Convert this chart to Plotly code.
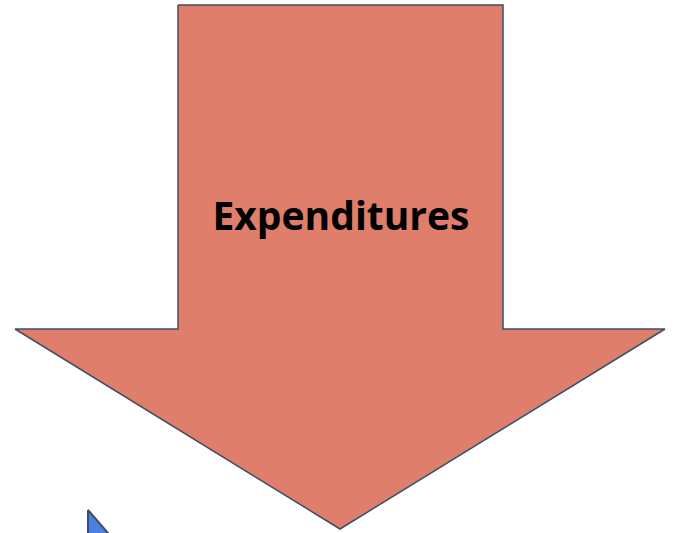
import plotly.graph_objects as go

# Shape outlines (pixel coordinates of the diagram canvas, y downwards)
arrow_x = [178, 503, 503, 665, 340, 15, 178, 178]
arrow_y = [5, 5, 329, 329, 529, 329, 329, 5]
tri_x = [88, 88, 140, 88]
tri_y = [510, 570, 570, 510]
label_text = "Expenditures"
label_pos = (341, 220)

W, H = 675, 533

fig = go.Figure()
fig.add_trace(go.Scatter(x=arrow_x, y=arrow_y, mode="lines", fill="toself",
                         fillcolor="#DF7E6A", line=dict(color="#3F4E63", width=1.5),
                         hoverinfo="skip", showlegend=False))
fig.add_trace(go.Scatter(x=tri_x, y=tri_y, mode="lines", fill="toself",
                         fillcolor="#4A80E3", line=dict(color="#3F4E63", width=2),
                         hoverinfo="skip", showlegend=False))
fig.add_trace(go.Scatter(x=[label_pos[0]], y=[label_pos[1]], mode="text", text=[f"<b>{label_text}</b>"],
                         textfont=dict(family="Open Sans", size=39, color="#000000"),
                         hoverinfo="skip", showlegend=False))

fig.update_layout(width=W, height=H, margin=dict(l=0, r=0, t=0, b=0),
                  paper_bgcolor="white", plot_bgcolor="white",
                  xaxis=dict(range=[0, W], visible=False, fixedrange=True),
                  yaxis=dict(range=[H, 0], visible=False, fixedrange=True))
fig.write_html("out.html", config={"displayModeBar": False},
               post_script="document.body.style.margin='0';document.body.style.overflow='hidden';")
